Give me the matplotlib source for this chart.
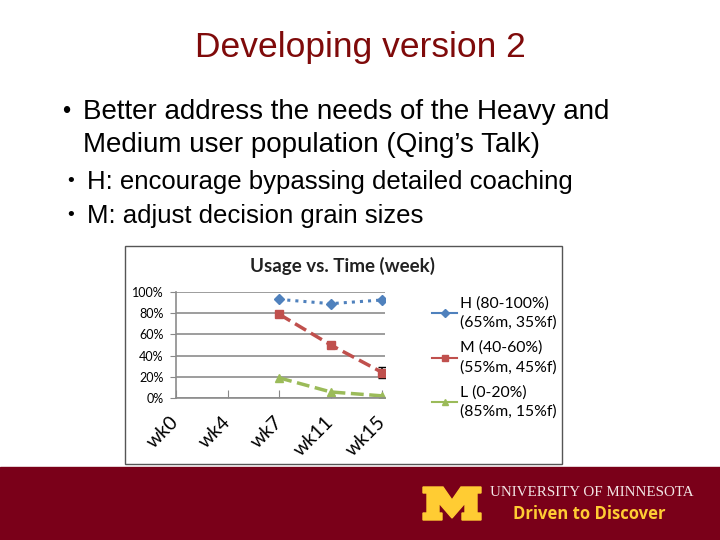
import matplotlib.pyplot as plt
import numpy as np
from matplotlib.lines import Line2D
from matplotlib.patches import Rectangle, Polygon

weeks = ['wk0', 'wk4', 'wk7', 'wk11', 'wk15']
h_vals = [np.nan, np.nan, 0.93, 0.89, 0.925]
m_vals = [np.nan, np.nan, 0.79, 0.50, 0.24]
m_err = [0, 0, 0.025, 0, 0.05]
l_vals = [np.nan, np.nan, 0.19, 0.057, 0.02]
yticks = [0, 0.2, 0.4, 0.6, 0.8, 1.0]
ylabels = ['0%', '20%', '40%', '60%', '80%', '100%']
legend_labels = ['H (80-100%)\n(65%m, 35%f)',
                 'M (40-60%)\n(55%m, 45%f)',
                 'L (0-20%)\n(85%m, 15%f)']

maroon = '#7A0019'
gold = '#FFCC33'
c_h = '#4F81BD'
c_m = '#C0504D'
c_l = '#9BBB59'

W, H = 720, 540
fig = plt.figure(figsize=(7.2, 5.4), dpi=100)

def fx(x):
    return x / W

def fy(y):
    return 1 - y / H

# slide text
fig.text(fx(360), fy(47), 'Developing version 2', ha='center', va='center',
         fontsize=25.5, color='#7F0A0A', family='Liberation Sans')
fig.text(fx(62), fy(112), '\u2022', ha='left', va='center', fontsize=17, family='Liberation Sans')
fig.text(fx(83), fy(112), 'Better address the needs of the Heavy and', ha='left', va='center',
         fontsize=20, family='Liberation Sans')
fig.text(fx(83), fy(145), 'Medium user population (Qing\u2019s Talk)', ha='left', va='center',
         fontsize=20, family='Liberation Sans')
fig.text(fx(67), fy(182), '\u2022', ha='left', va='center', fontsize=14, family='Liberation Sans')
fig.text(fx(87), fy(182), 'H: encourage bypassing detailed coaching', ha='left', va='center',
         fontsize=18.5, family='Liberation Sans')
fig.text(fx(67), fy(216), '\u2022', ha='left', va='center', fontsize=14, family='Liberation Sans')
fig.text(fx(87), fy(216), 'M: adjust decision grain sizes', ha='left', va='center',
         fontsize=18.5, family='Liberation Sans')

# chart frame
fig.patches.append(Rectangle((fx(125), fy(464)), fx(562 - 125), (464 - 246) / H,
                             transform=fig.transFigure, fill=False, ec='#555555', lw=1))
fig.text(fx(343), fy(266), 'Usage vs. Time (week)', ha='center', va='center',
         fontsize=13.5, fontweight='bold', family='Lato', color='#222222')

ax = fig.add_axes([fx(176), fy(398), fx(385 - 176), (398 - 292) / H])
x = np.arange(len(weeks))
ax.plot(x, h_vals, color=c_h, ls=':', lw=2.2, marker='D', ms=5)
ax.errorbar(x, m_vals, yerr=m_err, color=c_m, ls='--', lw=2.5, marker='s', ms=6,
            ecolor='black', elinewidth=1.2, capsize=3)
ax.plot(x, l_vals, color=c_l, ls='--', lw=2.5, marker='^', ms=6)

ax.set_xlim(0, 4.05)
ax.set_ylim(0, 1)
ax.set_yticks(yticks)
ax.set_yticklabels(ylabels, fontsize=9, family='Lato')
ax.set_xticks(x)
ax.set_xticklabels(weeks, rotation=45, ha='right', va='center',
                   rotation_mode='anchor', fontsize=14, family='Lato')
ax.tick_params(axis='x', direction='in', length=6, color='#888888', pad=15)
ax.tick_params(axis='y', length=4, color='#888888', pad=5)
ax.grid(axis='y', color='#8c8c8c', lw=1.2)
ax.set_axisbelow(True)
for s in ['top', 'right']:
    ax.spines[s].set_visible(False)
for s in ['left', 'bottom']:
    ax.spines[s].set_color('#8c8c8c')
    ax.spines[s].set_linewidth(1.2)

handles = [Line2D([], [], color=c_h, marker='D', ms=4, lw=1.5),
           Line2D([], [], color=c_m, marker='s', ms=4, lw=1.5),
           Line2D([], [], color=c_l, marker='^', ms=5, lw=1.5)]
leg = fig.legend(handles, legend_labels, loc='upper left',
                 bbox_to_anchor=(fx(426), fy(290)), frameon=False,
                 prop={'family': 'Lato', 'size': 11.3}, handlelength=1.6,
                 handletextpad=0.15, labelspacing=0.68, borderaxespad=0)
for t in leg.get_texts():
    t.set_linespacing(1.45)

# footer band
fig.patches.append(Rectangle((0, 0), 1, (540 - 467) / H, transform=fig.transFigure,
                             color=maroon, zorder=0))
mpts = [(423, 487), (443, 487), (452, 500), (461, 487), (481, 487), (481, 493),
        (477, 493), (477, 513), (481, 513), (481, 520), (462, 520), (462, 513),
        (465, 513), (465, 503), (452, 518), (439, 503), (439, 513), (442, 513),
        (442, 520), (423, 520), (423, 513), (427, 513), (427, 493), (423, 493)]
fig.patches.append(Polygon([(fx(a), fy(b)) for a, b in mpts], closed=True,
                           transform=fig.transFigure, color=gold))
fig.text(fx(490), fy(492), 'UNIVERSITY OF MINNESOTA', ha='left', va='center',
         fontsize=10.8, family='Liberation Serif', color='#F3E6E6')
fig.text(fx(513), fy(514), 'Driven to Discover', ha='left', va='center',
         fontsize=12, fontweight='bold', family='Open Sans', color=gold)

fig.savefig('out.png', dpi=100)
